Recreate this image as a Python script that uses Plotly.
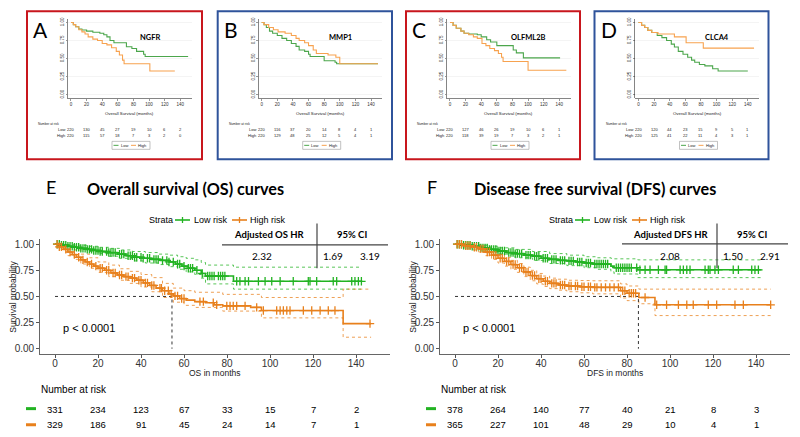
import numpy as np
import plotly.graph_objects as go

W, H = 800, 437
def fx(p): return p / W
def fy(p): return 1 - p / H

FONT_R = "Liberation Sans, Arial, sans-serif"
FONT_C = "Lato, Carlito, sans-serif"

# ---------------- data: small panels (A-D) ----------------
genes = ["NGFR", "MMP1", "OLFML2B", "CLCA4"]
letters = ["A", "B", "C", "D"]
small_ticks = [0, 20, 40, 60, 80, 100, 120, 140]

ngfr_low_t = [0, 3, 6, 10, 14, 20, 28, 37, 42, 46, 50, 55, 71, 78, 84, 93, 95, 150]
ngfr_low_s = [1.0, .97, .94, .91, .895, .88, .865, .85, .83, .80, .75, .72, .665, .64, .60, .56, .53, .53]
ngfr_high_t = [0, 3, 6, 10, 14, 18, 22, 28, 34, 40, 46, 52, 58, 62, 66, 68, 101, 133]
ngfr_high_s = [1.0, .97, .94, .90, .87, .84, .80, .77, .75, .71, .69, .65, .60, .55, .48, .43, .33, .33]

mmp1_low_t = [0, 3, 6, 10, 14, 20, 26, 32, 38, 44, 48, 55, 60, 62, 80, 94, 96, 149]
mmp1_low_s = [1.0, .97, .93, .88, .85, .82, .78, .75, .71, .67, .62, .60, .56, .53, .47, .45, .43, .43]
mmp1_high_t = [0, 3, 9, 15, 21, 30, 38, 44, 48, 55, 60, 66, 70, 85, 95, 100, 149]
mmp1_high_s = [1.0, .97, .93, .90, .87, .85, .82, .78, .75, .72, .68, .62, .57, .55, .52, .43, .43]

olfml2b_low_t = [0, 4, 8, 14, 18, 24, 35, 40, 47, 52, 60, 81, 85, 94, 141]
olfml2b_low_s = [1.0, .96, .92, .88, .85, .84, .83, .80, .76, .73, .68, .62, .58, .51, .51]
olfml2b_high_t = [0, 4, 8, 14, 18, 24, 30, 35, 41, 46, 51, 57, 62, 66, 68, 100, 149]
olfml2b_high_s = [1.0, .96, .92, .88, .85, .83, .80, .78, .71, .68, .64, .61, .57, .52, .46, .34, .34]

clca4_low_t = [0, 4, 8, 12, 17, 24, 30, 36, 42, 46, 51, 57, 63, 68, 72, 78, 85, 95, 102, 140]
clca4_low_s = [1.0, .96, .93, .89, .86, .82, .79, .75, .70, .66, .60, .56, .52, .48, .45, .42, .40, .36, .33, .33]
clca4_high_t = [0, 4, 8, 12, 17, 25, 46, 61, 83, 148]
clca4_high_s = [1.0, .96, .93, .89, .86, .84, .80, .72, .645, .645]

ngfr_risk_low = [220, 130, 45, 27, 19, 10, 6, 2]
ngfr_risk_high = [220, 115, 57, 18, 7, 3, 2, 0]
mmp1_risk_low = [220, 116, 37, 20, 14, 8, 4, 1]
mmp1_risk_high = [220, 129, 48, 25, 12, 5, 4, 1]
olfml2b_risk_low = [220, 127, 46, 26, 19, 10, 6, 1]
olfml2b_risk_high = [220, 118, 39, 19, 7, 3, 2, 1]
clca4_risk_low = [220, 120, 44, 23, 15, 9, 5, 1]
clca4_risk_high = [220, 125, 41, 22, 11, 4, 3, 1]

# ---------------- data: OS (E) ----------------
os_low_t = [0, 3, 6, 9, 12, 15, 18, 21, 25, 29, 33, 37, 41, 45, 49, 53, 56, 59, 62, 65, 68, 70, 83, 142.5]
os_low_s = [1.0, .99, .98, .97, .96, .95, .94, .93, .92, .905, .89, .875, .865, .855, .845, .83, .81, .79, .77, .75, .72, .695, .645, .645]
os_low_ci_t = [0, 5, 10, 15, 20, 25, 30, 36, 42, 48, 53, 57, 61, 65, 68, 70, 83, 142.5]
os_low_up = [1.0, .995, .99, .98, .97, .96, .945, .93, .92, .905, .895, .88, .865, .85, .825, .80, .78, .78]
os_low_lo = [1.0, .975, .955, .93, .91, .885, .865, .84, .82, .805, .785, .76, .735, .71, .675, .62, .57, .57]

os_high_t = [0, 2, 4, 6, 8, 10, 12, 14, 16, 18, 20, 23, 26, 29, 32, 35, 38, 41, 44, 47, 50, 53, 55, 58, 61, 65, 70, 74, 78, 91, 96, 134, 147]
os_high_s = [1.0, .975, .95, .925, .90, .875, .85, .83, .81, .79, .77, .75, .725, .705, .69, .675, .655, .63, .605, .58, .555, .525, .505, .48, .465, .45, .44, .42, .41, .395, .365, .24, .24]
os_high_ci_t = [0, 3, 6, 9, 12, 16, 20, 25, 30, 35, 40, 45, 50, 55, 60, 65, 78, 96, 134, 147]
os_high_up = [1.0, .995, .97, .945, .905, .87, .83, .80, .765, .74, .71, .68, .625, .58, .555, .54, .52, .49, .57, .57]
os_high_lo = [1.0, .955, .89, .855, .81, .77, .73, .69, .655, .625, .59, .545, .49, .445, .415, .395, .36, .295, .11, .11]

os_low_cens = [1, 2, 3, 4, 5, 6, 7, 8, 9, 10, 11, 12, 13, 14, 15, 16, 17, 18, 19, 20, 21, 22, 24, 25, 26, 27, 28, 30,
               31, 32, 34, 35, 36, 37, 38, 40, 41, 43, 44, 46, 47, 48, 50, 52, 53, 55, 57, 58, 60, 62, 63, 64, 66, 68.5,
               71, 72, 73, 74, 76, 77, 78, 79, 84.5, 86, 88.4, 90, 94.6, 97.7, 100.8, 104.7, 110.8, 117.8, 118.6,
               121.7, 129.4, 131, 138, 139.5, 141.1, 142.5]
os_high_cens = [1, 2, 3, 5, 7, 9, 11, 13, 15, 17, 19, 21, 22, 24, 25, 27, 28, 30, 31, 33, 34, 36, 37, 39, 40, 42, 43,
                45, 46, 48.8, 49.5, 51, 52.7, 54, 55.8, 57, 58.9, 60, 67.4, 69, 73.6, 75.2, 79.9, 81.4, 82.9, 84.5,
                88.4, 93.8, 96.9, 103.1, 104.7, 106.2, 107.8, 109.3, 115.5, 119.4, 123.3, 127.1, 130.2, 146.5]
os_median = 54.4

# ---------------- data: DFS (F) ----------------
dfs_low_t = [0, 4, 8, 12, 16, 20, 24, 28, 32, 36, 40, 44, 48, 52, 56, 60, 64, 72.5, 74, 85, 142.5]
dfs_low_s = [1.0, .99, .98, .965, .95, .935, .92, .91, .895, .885, .865, .855, .845, .84, .83, .82, .81, .79, .775, .755, .755]
dfs_low_ci_t = [0, 4, 8, 12, 16, 20, 28, 36, 44, 52, 60, 66, 72.5, 74, 85, 142.5]
dfs_low_up = [1.0, 1.0, .995, .99, .98, .965, .95, .93, .91, .895, .88, .87, .865, .86, .85, .85]
dfs_low_lo = [1.0, .98, .965, .945, .925, .905, .87, .845, .815, .795, .775, .76, .735, .715, .68, .68]

dfs_high_t = [0, 4, 8, 11, 14, 17, 20, 23, 26, 29, 32, 35, 38, 41, 44, 48, 52, 58, 64, 77, 80, 85.5, 93, 146.8]
dfs_high_s = [1.0, .985, .97, .955, .925, .895, .865, .835, .805, .775, .735, .70, .67, .645, .625, .61, .60, .593, .587, .555, .53, .49, .42, .42]
dfs_high_up = [1.0, 1.0, .99, .98, .955, .93, .905, .875, .845, .815, .78, .75, .72, .695, .675, .665, .655, .652, .65, .62, .60, .57, .57, .57]
dfs_high_lo = [1.0, .965, .945, .925, .89, .855, .82, .79, .76, .73, .69, .65, .62, .595, .575, .56, .545, .535, .525, .485, .46, .43, .317, .317]

dfs_low_cens = [1, 2, 3, 4, 5, 6, 7, 8, 9, 10, 11, 12, 13, 14, 15, 16, 17, 18, 19, 20, 21, 22, 23, 25, 26, 27, 28, 29,
                30, 31, 33, 34, 35, 37, 38, 39, 41, 42, 43, 45, 46, 47, 49, 50, 51, 53, 54, 55, 57, 58, 59, 61, 62, 63,
                65, 66, 67, 68, 69, 70, 71, 75, 76, 77, 78, 79, 80, 81, 82, 84.5, 86, 88.4, 90.7, 94.6, 97.7, 98.4,
                104.7, 106.2, 107.8, 109.3, 116.3, 117.8, 118.6, 120.9, 122.5, 129.4, 131.8, 138, 139.5, 141.1]
dfs_high_cens = [1, 2, 3, 5, 6, 7, 9, 10, 12, 13, 15, 16, 18, 19, 21, 22, 24, 25, 27, 28, 30, 31, 33, 34, 36, 37, 39,
                 40, 42, 43, 45, 46, 47, 49, 50, 51, 53, 54, 56, 57, 59, 60, 62, 63, 65, 66, 68, 70, 72, 74, 76, 78,
                 79, 81, 82, 83, 84, 88.4, 93.8, 98.4, 103.9, 107.8, 110.8, 117.8, 121.7, 130.2, 134.1, 146.8]
dfs_median = 85.3

risk_times = [0, 20, 40, 60, 80, 100, 120, 140]
os_risk_low = [331, 234, 123, 67, 33, 15, 7, 2]
os_risk_high = [329, 186, 91, 45, 24, 14, 7, 1]
dfs_risk_low = [378, 264, 140, 77, 40, 21, 8, 3]
dfs_risk_high = [365, 227, 101, 48, 29, 10, 4, 1]

os_hr, os_ci_lo, os_ci_hi = "2.32", "1.69", "3.19"
dfs_hr, dfs_ci_lo, dfs_ci_hi = "2.08", "1.50", "2.91"

# ---------------- styles ----------------
SG, SO = "#4CA64C", "#F7A24F"      # small panel colours
G, O = "#22B322", "#E8801C"         # big panel colours
RED, BLUE = "#C8161D", "#2F539B"

fig = go.Figure()
shapes, annotations = [], []
axes = {}

def ann(text, x, y, size, color="#000000", family=FONT_R, xanchor="center", yanchor="middle",
        xref="paper", yref="paper", textangle=0):
    annotations.append(dict(text=text, x=x, y=y, xref=xref, yref=yref, showarrow=False,
                            font=dict(size=size, color=color, family=family),
                            xanchor=xanchor, yanchor=yanchor, textangle=textangle, borderpad=0))

def pline(x0, y0, x1, y1, color, width, dash="solid"):
    shapes.append(dict(type="line", xref="paper", yref="paper", x0=fx(x0), y0=fy(y0), x1=fx(x1), y1=fy(y1),
                       line=dict(color=color, width=width, dash=dash)))

def step_at(ts, ss, t):
    i = np.searchsorted(np.asarray(ts), t, side="right") - 1
    return np.asarray(ss)[i]

# ---------------- small panels ----------------
small_data = [
    (ngfr_low_t, ngfr_low_s, ngfr_high_t, ngfr_high_s, ngfr_risk_low, ngfr_risk_high),
    (mmp1_low_t, mmp1_low_s, mmp1_high_t, mmp1_high_s, mmp1_risk_low, mmp1_risk_high),
    (olfml2b_low_t, olfml2b_low_s, olfml2b_high_t, olfml2b_high_s, olfml2b_risk_low, olfml2b_risk_high),
    (clca4_low_t, clca4_low_s, clca4_high_t, clca4_high_s, clca4_risk_low, clca4_risk_high),
]
box_left = [27, 217.7, 406, 594.5]
box_right = [202, 392, 580, 768.5]
box_colors = [RED, BLUE, RED, BLUE]

for i in range(4):
    n = i + 1
    ox = box_left[i] - 27
    xs = "x" if n == 1 else f"x{n}"
    ys = "y" if n == 1 else f"y{n}"
    lt, ls, ht, hs, rl, rh = small_data[i]
    axes["xaxis" if n == 1 else f"xaxis{n}"] = dict(
        domain=[fx(67.7 + ox), fx(191.7 + ox)], range=[-4.2, 154.6], anchor=ys,
        tickvals=small_ticks, ticks="outside", ticklen=1.5, tickwidth=0.5, tickcolor="#333",
        showline=True, linecolor="#333", linewidth=0.6, showgrid=False, zeroline=False,
        tickfont=dict(size=4.5, color="#333", family=FONT_R))
    axes["yaxis" if n == 1 else f"yaxis{n}"] = dict(
        domain=[fy(96.9), fy(16.9)], range=[-0.05, 1.05], anchor=xs,
        tickvals=[0, .25, .5, .75, 1], tickformat=".2f", tickangle=-90, ticks="outside",
        ticklen=1.5, tickwidth=0.5, tickcolor="#333", showline=True, linecolor="#333", linewidth=0.6,
        showgrid=True, gridcolor="#ececec", gridwidth=0.6, zeroline=False,
        tickfont=dict(size=4.5, color="#333", family=FONT_R))
    fig.add_trace(go.Scatter(x=lt, y=ls, mode="lines", line=dict(color=SG, width=1.1, shape="hv"),
                             xaxis=xs, yaxis=ys, showlegend=False, hoverinfo="skip"))
    fig.add_trace(go.Scatter(x=ht, y=hs, mode="lines", line=dict(color=SO, width=1.1, shape="hv"),
                             xaxis=xs, yaxis=ys, showlegend=False, hoverinfo="skip"))
    # box
    shapes.append(dict(type="rect", xref="paper", yref="paper", x0=fx(box_left[i]), x1=fx(box_right[i]),
                       y0=fy(158), y1=fy(9.3), line=dict(color=box_colors[i], width=2)))
    ann(letters[i], fx(32 + ox), fy(28), 21, family=FONT_C, xanchor="left")
    ann("<b>" + genes[i] + "</b>", 101, 0.79, 7.5, family=FONT_C, xref=xs, yref=ys)
    ann("Overall Survival (months)", fx(129.7 + ox), fy(112), 4.3, color="#222")
    ann("Number at risk", fx(37 + ox), fy(123), 3.2, xanchor="left", color="#222")
    ann("Low", fx(66 + ox), fy(128.3), 4, xanchor="right", color="#222")
    ann("High", fx(66 + ox), fy(134), 4, xanchor="right", color="#222")
    for k, tt in enumerate(small_ticks):
        ann(str(rl[k]), tt, fy(128.3), 4, xref=xs, color="#222")
        ann(str(rh[k]), tt, fy(134), 4, xref=xs, color="#222")
    # legend
    shapes.append(dict(type="rect", xref="paper", yref="paper", x0=fx(112 + ox), x1=fx(150 + ox),
                       y0=fy(148), y1=fy(140), line=dict(color="#999", width=0.6)))
    pline(113.5 + ox, 144, 118.5 + ox, 144, SG, 1)
    ann("Low", fx(119.5 + ox), fy(144), 4, xanchor="left", color="#222")
    pline(131 + ox, 144, 136 + ox, 144, SO, 1)
    ann("High", fx(137 + ox), fy(144), 4, xanchor="left", color="#222")

# ---------------- big panels ----------------
big = [
    dict(n=5, ox=0, letter="E", lx=45, title="Overall survival (OS) curves", xlab="OS in months", hrlab="Adjusted OS HR",
         hr=os_hr, cil=os_ci_lo, cih=os_ci_hi, lt=os_low_t, ls=os_low_s, lct=os_low_ci_t, lu=os_low_up, ll=os_low_lo,
         ht=os_high_t, hs=os_high_s, hct=os_high_ci_t, hu=os_high_up, hl=os_high_lo, lc=os_low_cens,
         hc=os_high_cens, med=os_median, rl=os_risk_low, rh=os_risk_high, tx=86, hrx=269.5, hrv=262, hline=244),
    dict(n=6, ox=400, letter="F", lx=426, title="Disease free survival (DFS) curves", xlab="DFS in months",
         hrlab="Adjusted DFS HR", hr=dfs_hr, cil=dfs_ci_lo, cih=dfs_ci_hi, lt=dfs_low_t, ls=dfs_low_s,
         lct=dfs_low_ci_t, lu=dfs_low_up, ll=dfs_low_lo, ht=dfs_high_t, hs=dfs_high_s, hct=dfs_high_t,
         hu=dfs_high_up, hl=dfs_high_lo, lc=dfs_low_cens, hc=dfs_high_cens, med=dfs_median, rl=dfs_risk_low,
         rh=dfs_risk_high, tx=473, hrx=270, hrv=270, hline=243),
]

for b in big:
    n, ox = b["n"], b["ox"]
    xs, ys = f"x{n}", f"y{n}"
    axes[f"xaxis{n}"] = dict(domain=[fx(40 + ox), fx(390 + ox)], range=[-6.98, 155.8], anchor=ys,
                             tickvals=risk_times, ticks="outside", ticklen=2.5, tickwidth=1, tickcolor="#555",
                             ticklabelstandoff=-3,
                             showline=True, linecolor="#666", linewidth=1.3, showgrid=False, zeroline=False,
                             tickfont=dict(size=10, color="#333", family=FONT_R))
    axes[f"yaxis{n}"] = dict(domain=[fy(353.55), fy(238.05)], range=[-0.05, 1.05], anchor=xs,
                             tickvals=[0, .25, .5, .75, 1], tickformat=".2f", ticks="outside", ticklen=2.5,
                             tickwidth=1, tickcolor="#555", showline=True, linecolor="#666", linewidth=1.3,
                             showgrid=False, zeroline=False, tickfont=dict(size=10, color="#333", family=FONT_R))
    for (t, s, c) in [(b["lct"], b["lu"], G), (b["lct"], b["ll"], G), (b["hct"], b["hu"], O), (b["hct"], b["hl"], O)]:
        fig.add_trace(go.Scatter(x=t, y=s, mode="lines", line=dict(color=c, width=1, dash="dot", shape="hv"),
                                 opacity=0.75, xaxis=xs, yaxis=ys, showlegend=False, hoverinfo="skip"))
    # median lines
    fig.add_trace(go.Scatter(x=[0, b["med"], b["med"]], y=[0.5, 0.5, 0], mode="lines",
                             line=dict(color="#333", width=1, dash="dot"), xaxis=xs, yaxis=ys,
                             showlegend=False, hoverinfo="skip"))
    for (t, s, cens, c) in [(b["lt"], b["ls"], b["lc"], G), (b["ht"], b["hs"], b["hc"], O)]:
        fig.add_trace(go.Scatter(x=t, y=s, mode="lines", line=dict(color=c, width=1.6, shape="hv"),
                                 xaxis=xs, yaxis=ys, showlegend=False, hoverinfo="skip"))
        fig.add_trace(go.Scatter(x=cens, y=[step_at(t, s, v) for v in cens], mode="markers",
                                 marker=dict(symbol="cross-thin", size=6, color=c, line=dict(width=1.3, color=c)),
                                 xaxis=xs, yaxis=ys, showlegend=False, hoverinfo="skip"))
    # titles
    ann(b["letter"], fx(b["lx"]), fy(186), 18, family=FONT_C, xanchor="left")
    ann("<b>" + b["title"] + "</b>", fx(b["tx"]), fy(187), 16.2, family=FONT_C, xanchor="left")
    # legend
    ann("Strata", fx(148 + ox), fy(219), 9, xanchor="left")
    pline(175 + ox, 219, 190 + ox, 219, G, 1.6)
    pline(182.5 + ox, 216, 182.5 + ox, 222, G, 1.3)
    ann("Low risk", fx(193 + ox), fy(219), 9, xanchor="left")
    pline(232 + ox, 219, 247 + ox, 219, O, 1.6)
    pline(239.5 + ox, 216, 239.5 + ox, 222, O, 1.3)
    ann("High risk", fx(249 + ox), fy(219), 9, xanchor="left")
    # HR table
    ann("<b>" + b["hrlab"] + "</b>", fx(b["hrx"] + ox), fy(234), 9.5, family=FONT_C)
    ann("<b>95% CI</b>", fx(352 + ox), fy(234), 9.5, family=FONT_C)
    pline(222 + ox, b["hline"], 388 + ox, b["hline"], "#444", 1.2)
    pline(317 + ox, 222.5, 317 + ox, 267.5, "#444", 1.2)
    ann(b["hr"], fx(b["hrv"] + ox), fy(255.5), 10, family=FONT_C)
    ann(b["cil"], fx(333 + ox), fy(255.5), 10, family=FONT_C)
    ann(b["cih"], fx(369.5 + ox), fy(255.5), 10, family=FONT_C)
    # axis titles, p value
    ann("Survival probability", fx(13 + ox), fy(296), 8.5, color="#222", textangle=-90)
    ann(b["xlab"], fx(215 + ox), fy(373), 8.5, color="#222")
    ann("p < 0.0001", fx(62 + ox), fy(327), 11, xanchor="left")
    # risk table
    ann("Number at risk", fx(40 + ox), fy(389), 10, xanchor="left")
    pline(26 + ox, 408.5, 36 + ox, 408.5, G, 3)
    pline(26 + ox, 424.7, 36 + ox, 424.7, O, 3)
    for k, tt in enumerate(risk_times):
        ann(str(b["rl"][k]), tt, fy(409), 9.5, xref=xs)
        ann(str(b["rh"][k]), tt, fy(424.7), 9.5, xref=xs)

fig.update_layout(width=W, height=H, autosize=False, margin=dict(l=0, r=0, t=0, b=0),
                  paper_bgcolor="white", plot_bgcolor="white", showlegend=False, hovermode=False,
                  shapes=shapes, annotations=annotations, **axes)
fig.write_html("out.html", config={"displayModeBar": False, "staticPlot": True},
               post_script="document.body.style.margin='0px';document.body.style.overflow='hidden';")
